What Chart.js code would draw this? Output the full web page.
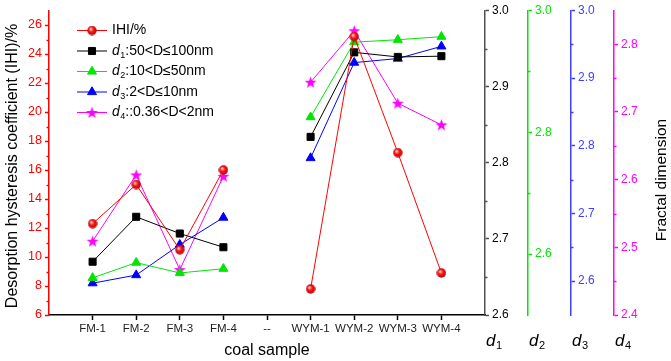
<!DOCTYPE html>
<html lang="en">
<head>
<meta charset="UTF-8">
<title>Desorption hysteresis coefficient and fractal dimension</title>
<script src="https://cdn.jsdelivr.net/npm/chart.js"></script>
<style>
    html, body { margin: 0; padding: 0; background: #fff; }
</style>
</head>
<body>
<canvas id="fdChart" width="671" height="361"></canvas>
<script>
// data
const categories = ['FM-1', 'FM-2', 'FM-3', 'FM-4', '--', 'WYM-1', 'WYM-2', 'WYM-3', 'WYM-4'];
const ihi = [12.3, 15.0, 10.5, 16.0, null, 7.8, 25.2, 17.2, 8.9];
const d1 = [2.670, 2.729, 2.707, 2.689, null, 2.834, 2.945, 2.939, 2.940];
const d2 = [2.561, 2.586, 2.569, 2.576, null, 2.825, 2.948, 2.952, 2.957];
const d3 = [2.597, 2.609, 2.654, 2.694, null, 2.782, 2.923, 2.929, 2.947];
const d4 = [2.509, 2.607, 2.467, 2.605, null, 2.744, 2.820, 2.713, 2.681];

// axis ticks
const ihiTicks = [6, 8, 10, 12, 14, 16, 18, 20, 22, 24, 26];
const ihiMinor = [7, 9, 11, 13, 15, 17, 19, 21, 23, 25];
const d1Ticks = [2.6, 2.7, 2.8, 2.9, 3.0];
const d1Minor = [2.65, 2.75, 2.85, 2.95];
const d2Ticks = [2.6, 2.8, 3.0];
const d2Minor = [2.7, 2.9];
const d3Ticks = [2.6, 2.7, 2.8, 2.9, 3.0];
const d3Minor = [2.65, 2.75, 2.85, 2.95];
const d4Ticks = [2.4, 2.5, 2.6, 2.7, 2.8];
const d4Minor = [2.45, 2.55, 2.65, 2.75];

const FONT = 'Arial, "Liberation Sans", sans-serif';
const RED = '#ff0000';
const GREEN = '#00e600';
const BLUE = '#0000ff';
const PINK = '#ff00ff';

// red shaded ball marker
function makeBall() {
    const c = document.createElement('canvas');
    c.width = 10; c.height = 10;
    const g = c.getContext('2d');
    const grd = g.createRadialGradient(3.6, 3.4, 0.4, 5, 5, 5);
    grd.addColorStop(0, '#ffd8d8');
    grd.addColorStop(0.4, '#ff1a1a');
    grd.addColorStop(1, '#b00000');
    g.fillStyle = grd;
    g.beginPath();
    g.arc(5, 5, 4.7, 0, Math.PI * 2);
    g.fill();
    return c;
}

// filled five point star
function makeStar() {
    const c = document.createElement('canvas');
    c.width = 13; c.height = 13;
    const g = c.getContext('2d');
    g.fillStyle = PINK;
    g.beginPath();
    for (let i = 0; i < 10; i++) {
        const r = i % 2 === 0 ? 6.3 : 2.6;
        const a = -Math.PI / 2 + i * Math.PI / 5;
        const px = 6.5 + r * Math.cos(a);
        const py = 7 + r * Math.sin(a);
        if (i === 0) g.moveTo(px, py); else g.lineTo(px, py);
    }
    g.closePath();
    g.fill();
    return c;
}

const ball = makeBall();
const star = makeStar();

function toPoints(values) {
    return values.map((v, i) => ({ x: i + 1, y: v }));
}

function makeSet(values, color, axis, style, radius, legendParts) {
    return {
        data: toPoints(values),
        yAxisID: axis,
        borderColor: color,
        backgroundColor: color,
        borderWidth: 1,
        pointStyle: style,
        pointRadius: radius,
        pointHoverRadius: radius,
        pointBackgroundColor: color,
        pointBorderColor: color,
        pointBorderWidth: 1,
        legendParts: legendParts
    };
}

const datasets = [
    makeSet(ihi, RED, 'y', ball, 5, ['', '', 'IHI/%']),
    makeSet(d1, '#000000', 'd1', 'rect', 5, ['d', '1', ':50<D≤100nm']),
    makeSet(d2, GREEN, 'd2', 'triangle', 5.2, ['d', '2', ':10<D≤50nm']),
    makeSet(d3, BLUE, 'd3', 'triangle', 5.2, ['d', '3', ':2<D≤10nm']),
    makeSet(d4, PINK, 'd4', star, 6, ['d', '4', '::0.36<D<2nm'])
];

// legend drawn by hand so the d can be italic with a subscript
const legendPlugin = {
    id: 'handLegend',
    afterDraw(chart) {
        const ctx = chart.ctx;
        ctx.save();
        chart.data.datasets.forEach((ds, i) => {
            const y = 30.5 + i * 20.5;
            ctx.strokeStyle = ds.borderColor;
            ctx.lineWidth = 1;
            ctx.beginPath();
            ctx.moveTo(77, y);
            ctx.lineTo(107, y);
            ctx.stroke();
            ctx.fillStyle = ds.pointBackgroundColor;
            if (Chart.helpers && Chart.helpers.drawPoint) {
                Chart.helpers.drawPoint(ctx, {
                    pointStyle: ds.pointStyle, radius: ds.pointRadius,
                    borderWidth: 1, rotation: 0
                }, 92, y);
            }
            drawSubText(ctx, ds.legendParts, 112, y, 14, '#000');
        });
        ctx.restore();
    }
};

function drawSubText(ctx, parts, x, y, size, color) {
    ctx.fillStyle = color;
    ctx.textBaseline = 'middle';
    ctx.textAlign = 'left';
    if (parts[0]) {
        ctx.font = 'italic ' + size + 'px ' + FONT;
        ctx.fillText(parts[0], x, y);
        x += ctx.measureText(parts[0]).width + 0.5;
        ctx.font = Math.round(size * 0.64) + 'px ' + FONT;
        ctx.fillText(parts[1], x, y + size * 0.32);
        x += ctx.measureText(parts[1]).width;
    }
    ctx.font = size + 'px ' + FONT;
    ctx.fillText(parts[2], x, y);
}

// minor ticks, titles and the d labels under the right axes
const extrasPlugin = {
    id: 'extras',
    afterDraw(chart) {
        const ctx = chart.ctx;
        const minor = [
            ['y', ihiMinor, RED, -1],
            ['d1', d1Minor, '#505050', 1],
            ['d2', d2Minor, GREEN, 1],
            ['d3', d3Minor, '#4040ff', 1],
            ['d4', d4Minor, PINK, 1]
        ];
        ctx.save();
        ctx.lineWidth = 1.5;
        minor.forEach(([id, vals, color, dir]) => {
            const s = chart.scales[id];
            const x0 = dir < 0 ? s.right : s.left;
            ctx.strokeStyle = color;
            vals.forEach(v => {
                const py = Math.round(s.getPixelForValue(v)) + 0.5;
                ctx.beginPath();
                ctx.moveTo(x0, py);
                ctx.lineTo(x0 + dir * 2.5, py);
                ctx.stroke();
            });
        });

        ctx.fillStyle = '#000';
        ctx.textAlign = 'center';
        ctx.textBaseline = 'middle';
        ctx.font = '16px ' + FONT;
        ctx.save();
        ctx.translate(13, 166);
        ctx.rotate(-Math.PI / 2);
        ctx.fillText('Desorption hysteresis coefficient (IHI)/%', 0, 0);
        ctx.restore();

        ctx.font = '15.5px ' + FONT;
        ctx.save();
        ctx.translate(662, 180);
        ctx.rotate(-Math.PI / 2);
        ctx.fillText('Fractal dimension', 0, 0);
        ctx.restore();

        ['d1', 'd2', 'd3', 'd4'].forEach((id, i) => {
            const s = chart.scales[id];
            drawSubText(ctx, ['d', String(i + 1), ''], s.left + 1, 341, 17, '#000');
        });
        ctx.restore();
    }
};

function rightAxis(min, max, tickList, color, borderColor, weight, width) {
    return {
        position: 'right',
        weight: weight,
        min: min,
        max: max,
        afterBuildTicks: s => { s.ticks = tickList.map(v => ({ value: v })); },
        afterFit: s => { s.width = width; },
        ticks: {
            color: color,
            font: { size: 12, family: FONT },
            padding: 3,
            callback: v => Number(v).toFixed(1)
        },
        grid: { drawOnChartArea: false, tickLength: 4, tickColor: borderColor, tickWidth: 1.5 },
        border: { color: borderColor, width: 1.5 }
    };
}

new Chart(document.getElementById('fdChart'), {
    type: 'line',
    data: { datasets: datasets },
    options: {
        responsive: false,
        animation: false,
        layout: { padding: { top: 4, right: 0, bottom: 0, left: 0 } },
        plugins: {
            legend: { display: false },
            tooltip: { enabled: false }
        },
        scales: {
            x: {
                type: 'linear',
                min: 0,
                max: 10,
                afterBuildTicks: s => { s.ticks = categories.map((c, i) => ({ value: i + 1 })); },
                afterFit: s => { s.height = 46; },
                ticks: {
                    callback: v => categories[v - 1] || '',
                    color: '#222',
                    font: { size: 11.5, family: FONT },
                    padding: 2,
                    autoSkip: false,
                    maxRotation: 0
                },
                grid: { drawOnChartArea: false, tickLength: 5, tickColor: '#000', tickWidth: 1.5 },
                border: { color: '#000', width: 1.5 },
                title: {
                    display: true,
                    text: 'coal sample',
                    color: '#000',
                    font: { size: 16, family: FONT },
                    padding: { top: 2, bottom: 1 }
                }
            },
            y: {
                position: 'left',
                min: 6,
                max: 27,
                afterBuildTicks: s => { s.ticks = ihiTicks.map(v => ({ value: v })); },
                afterFit: s => { s.width = 49; },
                ticks: { color: RED, font: { size: 12.5, family: FONT }, padding: 3 },
                grid: { drawOnChartArea: false, tickLength: 4, tickColor: RED, tickWidth: 1.5 },
                border: { color: RED, width: 1.5 }
            },
            d1: rightAxis(2.6, 3.0, d1Ticks, '#000', '#505050', 1, 43),
            d2: rightAxis(2.5, 3.0, d2Ticks, GREEN, GREEN, 2, 43),
            d3: rightAxis(2.55, 3.0, d3Ticks, '#4040ff', '#4040ff', 3, 43),
            d4: rightAxis(2.4, 2.85, d4Ticks, PINK, PINK, 4, 57)
        }
    },
    plugins: [legendPlugin, extrasPlugin]
});
</script>
</body>
</html>
